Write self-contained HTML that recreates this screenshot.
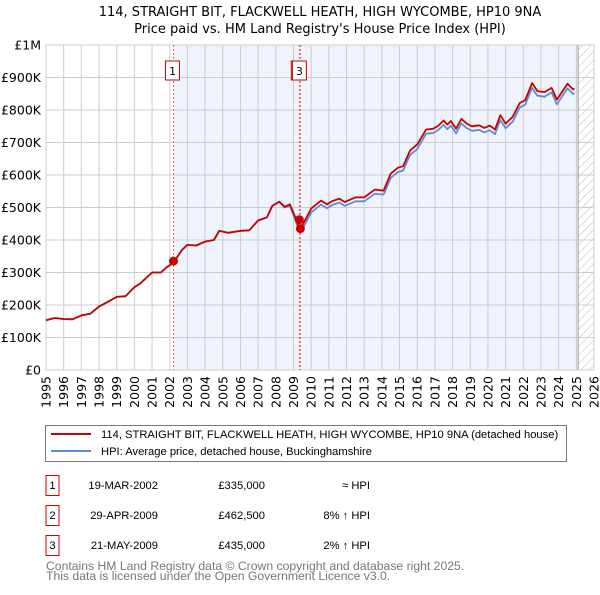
<!DOCTYPE html>
<html><head><meta charset="utf-8"><style>
body{margin:0;background:#fff;font-family:"Liberation Sans","DejaVu Sans",sans-serif;}
svg text{font-family:"DejaVu Sans","Liberation Sans",sans-serif;}
svg .ls{font-family:"Liberation Sans","DejaVu Sans",sans-serif;}
</style></head><body>
<svg id="c" width="600" height="590" xmlns="http://www.w3.org/2000/svg">
<defs><pattern id="h" width="6" height="6" patternUnits="userSpaceOnUse" patternTransform="rotate(45)"><line x1="0" y1="0" x2="0" y2="6" stroke="#bbb" stroke-width="1"/></pattern></defs>
<text x="320" y="16" font-size="13" text-anchor="middle">114, STRAIGHT BIT, FLACKWELL HEATH, HIGH WYCOMBE, HP10 9NA</text>
<text x="320" y="33" font-size="13" text-anchor="middle">Price paid vs. HM Land Registry's House Price Index (HPI)</text>
<g id="plot"></g>
<rect x="45.5" y="425.5" width="521" height="36" fill="#fff" stroke="#777"/>
<line x1="51" y1="434" x2="91" y2="434" stroke="#cc0000" stroke-width="2"/>
<text class="ls" x="101" y="438" font-size="11.2">114, STRAIGHT BIT, FLACKWELL HEATH, HIGH WYCOMBE, HP10 9NA (detached house)</text>
<line x1="51" y1="451" x2="91" y2="451" stroke="#5b8fd4" stroke-width="2"/>
<text class="ls" x="101" y="455" font-size="11.2">HPI: Average price, detached house, Buckinghamshire</text>
<g class="ls" font-size="11.2">
<rect x="46" y="475.5" width="13" height="20" fill="#fff" stroke="#cc0000"/><text class="ls" x="52.5" y="489" text-anchor="middle">1</text>
<text class="ls" x="158" y="489" text-anchor="end">19-MAR-2002</text><text class="ls" x="265" y="489" text-anchor="end">£335,000</text><text class="ls" x="370" y="489" text-anchor="end">≈ HPI</text>
<rect x="46" y="505.5" width="13" height="20" fill="#fff" stroke="#cc0000"/><text class="ls" x="52.5" y="519" text-anchor="middle">2</text>
<text class="ls" x="158" y="519" text-anchor="end">29-APR-2009</text><text class="ls" x="265" y="519" text-anchor="end">£462,500</text><text class="ls" x="370" y="519" text-anchor="end">8% ↑ HPI</text>
<rect x="46" y="535.5" width="13" height="20" fill="#fff" stroke="#cc0000"/><text class="ls" x="52.5" y="549" text-anchor="middle">3</text>
<text class="ls" x="158" y="549" text-anchor="end">21-MAY-2009</text><text class="ls" x="265" y="549" text-anchor="end">£435,000</text><text class="ls" x="370" y="549" text-anchor="end">2% ↑ HPI</text>
</g>
<text class="ls" x="46" y="570" font-size="12.2" fill="#777">Contains HM Land Registry data © Crown copyright and database right 2025.</text>
<text class="ls" x="46" y="580" font-size="12.2" fill="#777">This data is licensed under the Open Government Licence v3.0.</text>
</svg>
<script>
const yearTicks=[1995,1996,1997,1998,1999,2000,2001,2002,2003,2004,2005,2006,2007,2008,2009,2010,2011,2012,2013,2014,2015,2016,2017,2018,2019,2020,2021,2022,2023,2024,2025,2026];
const valueTicks=[0,100,200,300,400,500,600,700,800,900,1000];
const valueLabels=["£0","£100K","£200K","£300K","£400K","£500K","£600K","£700K","£800K","£900K","£1M"];
const priceYears=[1995.0,1995.5,1996.0,1996.5,1997.0,1997.5,1998.0,1998.5,1999.0,1999.5,2000.0,2000.3,2001.0,2001.5,2001.8,2002.2,2002.7,2003.0,2003.5,2004.0,2004.5,2004.8,2005.3,2006.0,2006.5,2007.0,2007.5,2007.8,2008.2,2008.5,2008.8,2009.1,2009.35,2009.6,2010.0,2010.55,2010.9,2011.2,2011.6,2011.9,2012.5,2013.0,2013.6,2014.1,2014.5,2014.9,2015.2,2015.6,2016.0,2016.5,2016.9,2017.2,2017.5,2017.7,2017.9,2018.2,2018.5,2018.8,2019.1,2019.5,2019.8,2020.1,2020.4,2020.7,2021.0,2021.4,2021.8,2022.1,2022.5,2022.8,2023.2,2023.6,2023.9,2024.5,2024.8,2024.9];
const priceValues=[153,160,157,156,168,173,195,210,225,227,255,265,300,300,315,330,370,385,383,395,400,428,422,428,430,460,470,505,518,502,510,470,432,455,497,521,510,520,527,517,531,531,555,552,604,622,627,676,694,740,742,752,768,755,766,742,773,758,750,753,745,752,740,784,758,779,822,830,883,858,855,868,832,881,864,866];
const hpiValues=[153,160,157,156,168,173,195,210,225,227,255,265,300,300,315,330,370,385,383,395,400,428,422,428,430,460,470,505,518,500,505,462,425,443,485,509,498,508,515,505,519,519,542,540,591,609,614,662,680,727,729,739,754,741,752,728,759,744,736,739,731,738,726,769,744,764,808,816,868,844,841,854,818,867,850,850];
const saleYears=[2002.21,2009.33,2009.39];
const saleValues=[335,462.5,435];
const NS="http://www.w3.org/2000/svg";
const L=46,R=594,T=45,B=370,Y0=1995,Y1=2026,VMAX=1000;
const xs=y=>L+(y-Y0)/(Y1-Y0)*(R-L);
const ys=v=>B-v/VMAX*(B-T);
const g=document.getElementById('plot');
function mk(t,a){const e=document.createElementNS(NS,t);for(const k in a)e.setAttribute(k,a[k]);g.appendChild(e);return e;}
let e;
e=mk('rect',{x:xs(saleYears[0]),y:T,width:xs(2025.1)-xs(saleYears[0]),height:B-T,fill:'#eef3fc'});


e=mk('rect',{x:xs(2025.1),y:T,width:R-xs(2025.1),height:B-T,fill:'url(#h)'});


yearTicks.forEach(y=>{
 e=mk('line',{x1:xs(y),y1:T,x2:xs(y),y2:B,stroke:'#ccc','stroke-width':1});
 
 
 e=mk('text',{x:0,y:0,'font-size':12.5,'text-anchor':'end',transform:`translate(${xs(y)+4.5},${B+6}) rotate(-90)`});
 e.textContent=y;
 
 
});
valueTicks.forEach((v,i)=>{
 e=mk('line',{x1:L,y1:ys(v),x2:R,y2:ys(v),stroke:'#ccc','stroke-width':1});
 
 
 e=mk('text',{x:41,y:ys(v)+4.5,'font-size':12.5,'text-anchor':'end'});
 e.textContent=valueLabels[i];
 
 
});
e=mk('line',{x1:xs(2025.1),y1:T,x2:xs(2025.1),y2:B,stroke:'#999'});


e=mk('rect',{x:L,y:T,width:R-L,height:B-T,fill:'none',stroke:'#ccc'});


saleYears.forEach((y,i)=>{
 e=mk('line',{x1:xs(y),y1:T,x2:xs(y),y2:B,stroke:'#e66','stroke-width':1,'stroke-dasharray':'2,2'});
 
 
});
const pts=a=>priceYears.map((y,i)=>xs(y).toFixed(1)+','+ys(a[i]).toFixed(1)).join(' ');
e=mk('polyline',{points:pts(hpiValues),fill:'none',stroke:'#5b8fd4','stroke-width':1.8,'stroke-linejoin':'round'});


e=mk('polyline',{points:pts(priceValues),fill:'none',stroke:'#cc0000','stroke-width':1.8,'stroke-linejoin':'round'});


saleYears.forEach((y,i)=>{
 e=mk('circle',{cx:xs(y),cy:ys(saleValues[i]),r:4.5,fill:'#cc0000'});
 
 
});
[[0,'1'],[1,'2'],[2,'3']].forEach(([i,t])=>{
 const x=xs(saleYears[i]);
 e=mk('rect',{x:x-8,y:61,width:14,height:19,fill:'#fff',stroke:'#cc0000'});
 
 
 e=mk('text',{x:x-1,y:75,'font-size':11,'text-anchor':'middle'});
 e.textContent=t;
 
 
});
</script>
</body></html>
